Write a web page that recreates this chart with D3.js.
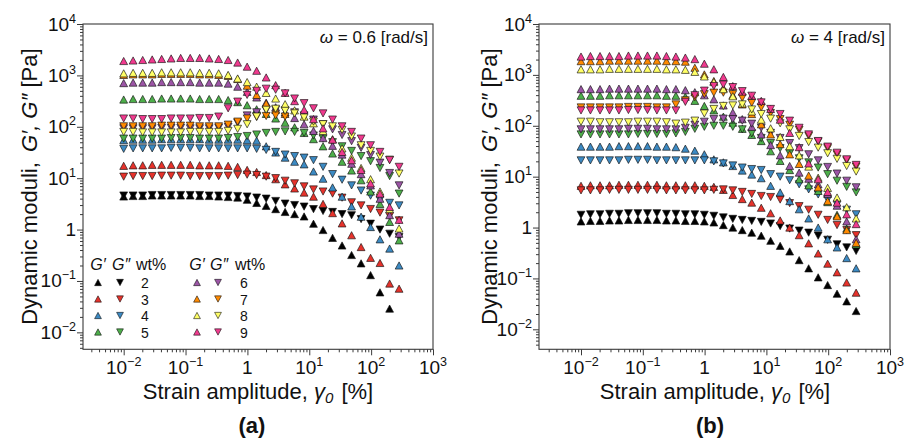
<!DOCTYPE html>
<html><head><meta charset="utf-8">
<script src="https://cdn.jsdelivr.net/npm/d3@7"></script>
<style>body{margin:0;background:#fff}svg{display:block;font-family:"Liberation Sans",Arial,Helvetica,sans-serif}</style>
</head><body><svg id="c" width="912" height="439"></svg>
<script>
// ---- data ----
const strain = [0.01,0.0142,0.0203,0.0289,0.0411,0.0585,0.0834,0.119,0.169,0.241,0.343,0.488,0.695,0.99,1.41,2.01,2.86,4.07,5.79,8.25,11.7,16.7,23.8,33.9,48.3,68.8,97.9,139,199,283];
const concentrations = [2,3,4,5,6,7,8,9];
const colors = ["#000000","#e6322b","#3c8ac3","#4daf4a","#9c55a6","#ff8a00","#ffff66","#f03a8e"];

// panel (a): omega = 0.6 rad/s, G' and G'' [Pa]
const gpA2 = [4.4,4.5,4.5,4.6,4.6,4.6,4.6,4.6,4.5,4.5,4.4,4.3,4.2,3.8,3.3,2.9,2.5,2.2,2.0,1.8,1.3,0.98,0.69,0.49,0.32,0.22,0.13,0.060,0.029];
const gppA2 = [4.6,4.6,4.6,4.7,4.7,4.7,4.7,4.7,4.7,4.6,4.6,4.6,4.5,4.4,4.2,4.0,3.6,3.2,3.0,2.8,2.5,2.3,2.2,2.0,1.9,1.6,1.3,1.0,0.83,0.71];
const gpA3 = [17.4,17.8,17.8,18.2,18.2,18.2,18.2,18.2,17.8,17.8,17.8,17.4,16.6,14.5,13.2,11.5,9.55,7.59,6.31,5.25,4.37,3.16,2.09,1.32,0.776,0.457,0.282,0.224,0.0891,0.0708];
const gppA3 = [10.7,11.0,11.0,11.0,11.2,11.2,11.2,11.0,11.0,11.0,11.0,11.2,11.5,11.7,11.5,10.7,10.0,8.91,7.94,6.92,6.03,5.50,5.01,4.17,3.39,2.95,2.51,2.14,1.82,1.51];
const gpA4 = [55.0,56.2,56.2,56.2,57.5,57.5,57.5,57.5,57.5,56.2,56.2,56.2,56.2,55.0,53.7,41.7,31.6,25.1,20.9,18.6,13.5,9.77,6.61,4.37,2.82,1.78,1.12,0.646,0.427,0.200];
const gppA4 = [37.2,38.0,38.0,38.0,38.0,38.9,38.9,38.9,38.0,38.0,38.0,38.0,38.0,38.0,37.2,35.5,32.4,28.8,26.9,25.1,22.4,16.6,12.0,9.33,7.24,5.75,4.57,3.80,3.31,2.95];
const gpA5 = [339,347,347,347,355,355,355,355,347,347,347,331,302,263,219,178,145,120,97.7,75.9,57.5,41.7,30.2,20.9,14.1,9.12,5.50,3.16,1.41,0.617];
const gppA5 = [58.9,58.9,58.9,58.9,58.9,60.3,60.3,60.3,58.9,58.9,58.9,60.3,63.1,66.1,70.8,75.9,79.4,81.3,79.4,75.9,67.6,58.9,50.1,41.7,33.9,26.9,21.4,15.8,11.0,5.01];
const gpA6 = [708,724,724,724,741,741,741,741,724,724,724,692,603,479,372,295,240,191,148,112,83.2,60.3,42.7,28.8,19.1,12.0,7.24,3.98,1.91,0.832];
const gppA6 = [93.3,93.3,93.3,93.3,95.5,95.5,95.5,93.3,93.3,93.3,95.5,100,120,166,191,209,214,209,191,166,138,112,89.1,69.2,52.5,38.9,28.2,20.0,12.6,7.24];
const gpA7 = [1023,1047,1047,1047,1072,1072,1072,1072,1047,1047,1023,977,851,631,417,282,214,178];
const gppA7 = [102,102,102,102,105,105,105,105,102,102,102,110,126,145,155,162,166,158];
const gpA8 = [1096,1122,1122,1122,1148,1148,1148,1148,1122,1122,1096,1023,871,741,603,457,355,275,209,158,117,83.2,57.5,38.0,25.1,15.8,9.55,5.50,2.51,1.05];
const gppA8 = [79.4,79.4,77.6,77.6,77.6,77.6,77.6,79.4,79.4,79.4,79.4,83.2,91.2,112,158,214,224,204,182,151,126,112,102,87.1,64.6,43.7,33.9,26.3,22.9,12.3];
const gpA9 = [1905,1950,1995,2042,2089,2138,2188,2188,2188,2138,2089,1995,1778,1479,1230,912,646,457,316,214,141,93.3,56.2,32.4,22.4,14.5,7.94,5.01,2.75,1.55];
const gppA9 = [145,145,141,141,141,145,145,145,148,148,158,229,309,417,501,550,525,447,355,288,229,182,138,102,79.4,58.9,43.7,32.4,22.4,16.6];

// panel (b): omega = 4 rad/s
const gpB2 = [1.32,1.35,1.35,1.38,1.38,1.41,1.41,1.41,1.41,1.38,1.38,1.35,1.35,1.32,1.26,1.12,1.00,0.891,0.794,0.692,0.550,0.437,0.339,0.229,0.158,0.105,0.0741,0.0501,0.0355,0.0229];
const gppB2 = [1.78,1.82,1.82,1.86,1.86,1.91,1.91,1.91,1.91,1.86,1.86,1.82,1.82,1.78,1.70,1.58,1.48,1.41,1.35,1.29,1.20,1.07,0.955,0.871,0.794,0.692,0.575,0.468,0.407,0.347];
const gpB3 = [6.61,6.76,6.76,6.76,6.92,6.92,6.92,6.92,6.92,6.76,6.76,6.76,6.76,6.61,6.31,5.50,4.37,3.63,3.09,2.45,1.91,1.38,1.00,0.708,0.490,0.309,0.195,0.132,0.0832,0.0525];
const gppB3 = [5.37,5.37,5.37,5.50,5.50,5.50,5.50,5.50,5.50,5.37,5.37,5.37,5.37,5.37,5.50,5.62,5.37,5.01,4.57,4.17,3.98,3.55,3.02,2.63,2.24,1.78,1.41,1.12,0.891,0.708];
const gpB4 = [38.9,38.9,38.9,38.9,39.8,39.8,39.8,39.8,38.9,38.9,38.0,35.5,32.4,27.5,21.9,19.1,16.2,13.2,11.0,9.33,6.61,4.90,3.31,2.29,1.51,1.00,0.589,0.407,0.251,0.158];
const gppB4 = [20.9,20.9,20.9,20.9,20.9,21.4,21.4,21.4,20.9,20.9,20.9,20.9,20.9,20.9,20.0,18.2,16.6,15.1,14.1,13.5,11.2,10.0,8.51,7.08,5.62,4.47,3.55,2.82,2.24,1.82];
const gpB5 = [389,389,389,398,398,398,398,398,398,389,389,372,309,245,200,151,115,87.1,66.1,50.1,31.6,20.4,13.5,8.91,6.76,5.25,3.16,1.78,0.955,0.468];
const gppB5 = [67.6,67.6,67.6,67.6,67.6,67.6,69.2,69.2,69.2,69.2,70.8,75.9,87.1,95.5,100,100,95.5,85.1,70.8,57.5,45.7,36.3,28.8,22.9,19.1,15.1,11.2,8.32,6.31,4.90];
const gpB6 = [525,525,525,537,537,537,537,537,537,525,525,501,457,398,331,251,182,135,95.5,67.6,41.7,26.3,16.2,12.0,9.12,7.08,4.57,2.69,1.32,0.589];
const gppB6 = [85.1,85.1,85.1,85.1,85.1,87.1,87.1,87.1,85.1,85.1,85.1,91.2,105,120,135,138,135,126,110,91.2,72.4,57.5,45.7,36.3,27.5,20.9,15.5,11.5,8.32,6.17];
const gpB7 = [1862,1862,1862,1905,1905,1905,1905,1905,1905,1862,1862,1820,1380,1023,759,550,398,263,170,107,67.6,43.7,27.5,17.8,10.5,6.17,3.31,1.66,0.891,0.501];
const gppB7 = [229,229,229,229,229,234,234,234,229,229,263,316,363,417,447,447,417,355,282,229,178,135,105,83.2,63.1,49.0,36.3,27.5,20.9,15.8];
const gpB8 = [1288,1288,1288,1318,1318,1318,1318,1318,1318,1288,1288,1259,1148,933,724,525,380,275,191,132,89.1,60.3,39.8,26.3,15.8,9.55,6.03,3.89,2.51,1.51];
const gppB8 = [120,120,117,117,117,117,120,120,120,117,110,115,126,174,214,245,251,263,209,170,138,112,85.1,63.1,47.9,37.2,28.8,22.4,16.2,12.6];
const gpB9 = [2291,2344,2344,2344,2344,2399,2399,2399,2399,2344,2291,2188,2042,1660,1288,912,603,468,389,309,214,132,72.4,38.0,18.2,8.91,5.01,3.09,1.82,1.17];
const gppB9 = [200,200,200,200,200,204,204,204,200,200,200,295,398,490,603,646,575,479,389,288,214,170,126,91.2,67.6,50.1,38.9,29.5,21.9,17.0];

const xTicks = [0.01,0.1,1,10,100,1000];
const xTickLabels = [["10","−2"],["10","−1"],["1",""],["10","1"],["10","2"],["10","3"]];
const yTicks = [0.01,0.1,1,10,100,1000,10000];
const yTickLabels = [["10","−2"],["10","−1"],["1",""],["10","1"],["10","2"],["10","3"],["10","4"]];

// ---- drawing ----
const svg = d3.select("#c");
const AX = "#3a3a3a";
const tri = (w,h,dir) => dir>0 ? `M0,${-h/2}L${w/2},${h/2}L${-w/2},${h/2}Z` : `M0,${h/2}L${w/2},${-h/2}L${-w/2},${-h/2}Z`;
const UP = tri(7.8,7.2,1), DOWN = tri(7.8,7.2,-1);

const panels = [
  {left:83,right:433,top:24,bottom:349.3,xDomain:[0.0022,1000],yDomain:[0.00468,10000],
   omega:"0.6",tag:"(a)",tagX:252,titleX:258,yTitleX:37,
   gp:[gpA2,gpA3,gpA4,gpA5,gpA6,gpA7,gpA8,gpA9],gpp:[gppA2,gppA3,gppA4,gppA5,gppA6,gppA7,gppA8,gppA9],legend:true},
  {left:539,right:890,top:24,bottom:349.3,xDomain:[0.00209,1000],yDomain:[0.00405,10000],
   omega:"4",tag:"(b)",tagX:710,titleX:715,yTitleX:497,
   gp:[gpB2,gpB3,gpB4,gpB5,gpB6,gpB7,gpB8,gpB9],gpp:[gppB2,gppB3,gppB4,gppB5,gppB6,gppB7,gppB8,gppB9],legend:false}
];

function isPow10(v){const l=Math.log10(v);return Math.abs(l-Math.round(l))<1e-6;}

function supLabel(sel, parts, size){
  sel.text(parts[0]);
  if(parts[1]) sel.append("tspan").attr("font-size",size*0.66).attr("dy",-size*0.42).text(parts[1]);
}

panels.forEach(p=>{
  const x = d3.scaleLog().domain(p.xDomain).range([p.left,p.right]);
  const y = d3.scaleLog().domain(p.yDomain).range([p.bottom,p.top]);
  const g = svg.append("g");

  // ticks
  const xa1 = g.append("g").attr("transform",`translate(0,${p.bottom})`).attr("color",AX)
    .call(d3.axisBottom(x).tickValues(x.ticks().filter(v=>!isPow10(v))).tickSize(3).tickFormat(""));
  xa1.select(".domain").remove();
  const xa2 = g.append("g").attr("transform",`translate(0,${p.bottom})`).attr("color",AX)
    .call(d3.axisBottom(x).tickValues(xTicks).tickSize(6).tickFormat(""));
  xa2.select(".domain").remove();
  const ya1 = g.append("g").attr("transform",`translate(${p.left},0)`).attr("color",AX)
    .call(d3.axisLeft(y).tickValues(y.ticks().filter(v=>!isPow10(v))).tickSize(3).tickFormat(""));
  ya1.select(".domain").remove();
  const ya2 = g.append("g").attr("transform",`translate(${p.left},0)`).attr("color",AX)
    .call(d3.axisLeft(y).tickValues(yTicks).tickSize(6).tickFormat(""));
  ya2.select(".domain").remove();
  g.selectAll(".tick line").attr("stroke-width",1);

  // tick labels
  xTicks.forEach((v,i)=>{
    const t = g.append("text").attr("x",x(v)).attr("y",p.bottom+25).attr("text-anchor","middle")
      .attr("font-size",19).attr("fill","#111");
    supLabel(t,xTickLabels[i],19);
  });
  yTicks.forEach((v,i)=>{
    const t = g.append("text").attr("x",p.left-7).attr("y",y(v)+6.5).attr("text-anchor","end")
      .attr("font-size",19).attr("fill","#111");
    supLabel(t,yTickLabels[i],19);
  });

  // markers
  concentrations.forEach((c,ci)=>{
    [[p.gp[ci],UP],[p.gpp[ci],DOWN]].forEach(([arr,shape])=>{
      g.append("g").selectAll("path").data(arr.map((v,i)=>[strain[i],v])).join("path")
        .attr("d",shape).attr("transform",d=>`translate(${x(d[0])},${y(d[1])})`)
        .attr("fill",colors[ci]).attr("stroke","#111").attr("stroke-width",0.65);
    });
  });

  // frame
  g.append("rect").attr("x",p.left).attr("y",p.top).attr("width",p.right-p.left).attr("height",p.bottom-p.top)
    .attr("fill","none").attr("stroke",AX).attr("stroke-width",1.1);

  // omega annotation
  const om = g.append("text").attr("x",p.right-5).attr("y",43).attr("text-anchor","end").attr("font-size",17).attr("fill","#111");
  om.append("tspan").attr("font-style","italic").text("ω");
  om.append("tspan").text(" = "+p.omega+" [rad/s]");

  // axis titles
  const xt = g.append("text").attr("x",p.titleX).attr("y",399).attr("text-anchor","middle").attr("font-size",22).attr("fill","#111");
  xt.append("tspan").text("Strain amplitude, ");
  xt.append("tspan").attr("font-style","italic").text("γ");
  xt.append("tspan").attr("font-style","italic").attr("font-size",15).attr("dy",4).text("0");
  xt.append("tspan").attr("dy",-4).attr("dx",8).text("[%]");

  const yt = g.append("text").attr("transform",`translate(${p.yTitleX},${(p.top+p.bottom)/2}) rotate(-90)`)
    .attr("text-anchor","middle").attr("font-size",22).attr("fill","#111");
  yt.append("tspan").text("Dynamic moduli, ");
  yt.append("tspan").attr("dx",4).attr("font-style","italic").text("G′, G″");
  yt.append("tspan").text(" [Pa]");

  g.append("text").attr("x",p.tagX).attr("y",433).attr("text-anchor","middle").attr("font-size",22)
    .attr("font-weight","bold").attr("fill","#111").text(p.tag);

  // legend
  if(p.legend){
    const cols = [{gx:98,gpx:120,nx:145,idx:[0,1,2,3]},{gx:197,gpx:218,nx:244,idx:[4,5,6,7]}];
    const rowY = [282.5,299,315.5,332];
    const LUP = tri(6.8,6.3,1), LDOWN = tri(6.8,6.3,-1);
    cols.forEach(col=>{
      g.append("text").attr("x",col.gx).attr("y",270).attr("text-anchor","middle").attr("font-size",16)
        .attr("font-style","italic").attr("fill","#111").text("G′");
      g.append("text").attr("x",col.gpx+1).attr("y",270).attr("text-anchor","middle").attr("font-size",16)
        .attr("font-style","italic").attr("fill","#111").text("G″");
      g.append("text").attr("x",col.nx-9).attr("y",270).attr("font-size",16).attr("fill","#111").text("wt%");
      col.idx.forEach((ci,r)=>{
        g.append("path").attr("d",LUP).attr("transform",`translate(${col.gx},${rowY[r]})`)
          .attr("fill",colors[ci]).attr("stroke","#111").attr("stroke-width",0.6);
        g.append("path").attr("d",LDOWN).attr("transform",`translate(${col.gpx},${rowY[r]})`)
          .attr("fill",colors[ci]).attr("stroke","#111").attr("stroke-width",0.6);
        g.append("text").attr("x",col.nx).attr("y",rowY[r]+5.5).attr("text-anchor","middle").attr("font-size",14)
          .attr("fill","#111").text(concentrations[ci]);
      });
    });
  }
});
</script>
</body></html>
